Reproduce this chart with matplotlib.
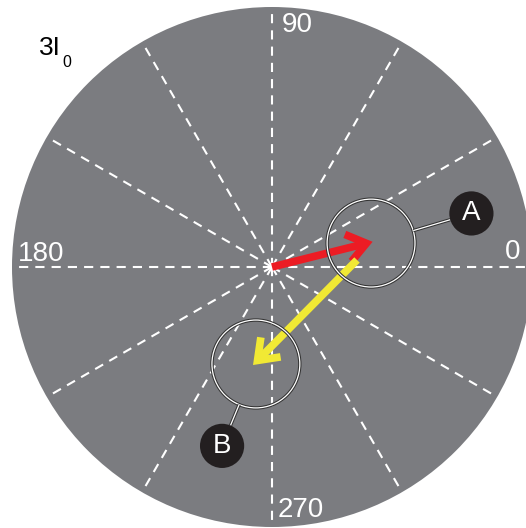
import numpy as np
import matplotlib
matplotlib.use("Agg")
import matplotlib.pyplot as plt
import matplotlib.patheffects as pe
from matplotlib.patches import Circle, FancyArrowPatch

plt.rcParams['font.family'] = ['Liberation Sans', 'DejaVu Sans']

# spokes of the polar grid (degrees)
spoke_angles = [0, 30, 60, 90, 120, 150, 180, 210, 240, 270, 300, 330]
angle_labels = ["0", "90", "180", "270"]
label_pos = [(0.927, 0.058), (0.097, 0.930), (-0.888, 0.050), (0.112, -0.935)]

# vectors in units of the plot radius
red_start = (0.0, 0.0)
red_end = (0.387, 0.097)
yellow_start = (0.327, 0.027)
yellow_end = (-0.073, -0.377)

# highlight circles and their callout labels
zone_names = ["A", "B"]
zone_centers = [(0.381, 0.092), (-0.062, -0.373)]
zone_radius = 0.169
tag_centers = [(0.767, 0.206), (-0.192, -0.688)]
tag_radius = 0.085

GRAY = "#7b7c80"
RED = "#ec1c24"
YELLOW = "#f1e934"
DARK = "#231f20"

fig = plt.figure(figsize=(5.26, 5.28), dpi=100)
ax = fig.add_axes([12 / 526, 1 / 528, 520 / 526, 520 / 528])
ax.set_xlim(-1, 1)
ax.set_ylim(-1, 1)
ax.set_aspect("equal")
ax.axis("off")

ax.add_patch(Circle((0, 0), 1.0, facecolor=GRAY, edgecolor="none", zorder=0))

for a in spoke_angles:
    t = np.deg2rad(a)
    ax.plot([0, np.cos(t)], [0, np.sin(t)], color="white", lw=1.5,
            dashes=(4.4, 3.4), zorder=1)

for txt, (x, y) in zip(angle_labels, label_pos):
    ax.text(x, y, txt, color="white", fontsize=20, ha="center", va="center", zorder=2)

# "3I" with a dropped subscript 0
ax.text(-0.895, 0.815, "3I", color="black", fontsize=19, ha="left", va="baseline",
        clip_on=False)
ax.text(-0.808, 0.770, "0", color="black", fontsize=11.5, ha="left", va="baseline",
        clip_on=False)

def vector(p0, p1, color):
    arr = FancyArrowPatch(p0, p1, arrowstyle="->,head_length=1.35,head_width=1.0",
                          mutation_scale=10, lw=5.5, color=color,
                          shrinkA=0, shrinkB=0, joinstyle="miter", capstyle="butt",
                          zorder=4)
    ax.add_patch(arr)

vector(red_start, red_end, RED)
vector(yellow_start, yellow_end, YELLOW)

outline = [pe.Stroke(linewidth=2.4, foreground="#333333"), pe.Normal()]
for name, c, tc in zip(zone_names, zone_centers, tag_centers):
    ax.add_patch(Circle(c, zone_radius, facecolor="none", edgecolor="white",
                        lw=0.9, path_effects=outline, zorder=5))
    d = np.array(tc) - np.array(c)
    u = d / np.hypot(*d)
    p0 = np.array(c) + u * zone_radius
    p1 = np.array(tc) - u * tag_radius
    ax.plot([p0[0], p1[0]], [p0[1], p1[1]], color="white", lw=0.9,
            path_effects=outline, zorder=5, solid_capstyle="butt")
    ax.add_patch(Circle(tc, tag_radius, facecolor=DARK, edgecolor="none", zorder=6))
    ax.text(tc[0], tc[1], name, color="white", fontsize=20, ha="center",
            va="center", zorder=7)

fig.savefig("out.png", dpi=100)
